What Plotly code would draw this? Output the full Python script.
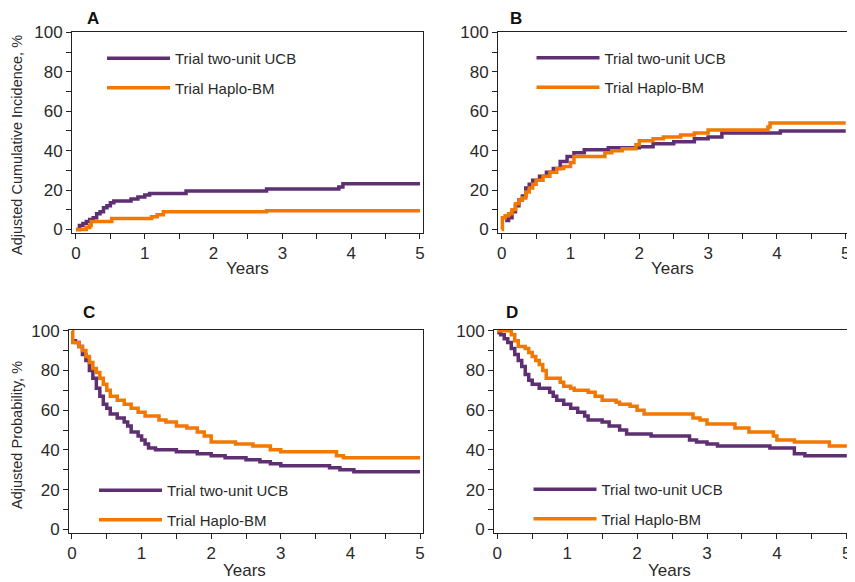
import plotly.graph_objects as go

# The page body has an 8px margin, so the figure is drawn 8px smaller and all
# reference pixel positions are shifted by that offset.
REF_W, REF_H = 855, 582
OFF = 8
W, H = REF_W - OFF, REF_H - OFF
PURPLE = "#5E2F72"
ORANGE = "#F27800"

# ---- Data ----
# Panel A: cumulative incidence
a_ucb_t = [0, 0.05, 0.1, 0.15, 0.2, 0.25, 0.3, 0.35, 0.4, 0.45, 0.5, 0.55, 0.8, 0.9, 1.0, 1.07, 1.6, 2.77, 3.82, 3.88, 5.0]
a_ucb_v = [0, 2, 3, 4, 5, 6, 8, 9, 11, 12, 13.5, 14.5, 15.5, 16.5, 17.5, 18.3, 19.5, 20.5, 21.5, 23.2, 23.2]
a_hap_t = [0, 0.15, 0.2, 0.22, 0.52, 1.1, 1.18, 1.27, 2.77, 5.0]
a_hap_v = [0, 1, 2, 4, 5.5, 6.5, 7.5, 9, 9.5, 9.5]

# Panel B
b_ucb_t = [0.05, 0.1, 0.15, 0.2, 0.25, 0.3, 0.35, 0.4, 0.45, 0.55, 0.65, 0.75, 0.85, 0.95, 1.05, 1.2, 1.55, 2.0, 2.2, 2.5, 2.8, 3.0, 3.2, 4.05, 5.0]
b_ucb_v = [4.5, 6, 9, 12, 15, 17, 21, 23, 25, 27, 29, 31, 34.5, 37, 39, 40.5, 41.5, 42, 43.5, 44.5, 46, 47, 49, 50, 50]
b_hap_t = [0, 0.01, 0.05, 0.1, 0.15, 0.2, 0.25, 0.3, 0.35, 0.4, 0.45, 0.5, 0.6, 0.7, 0.8, 0.9, 1.0, 1.05, 1.5, 1.6, 1.75, 1.95, 2.0, 2.2, 2.35, 2.6, 2.8, 3.0, 3.87, 3.9, 5.0]
b_hap_v = [0, 6, 7, 8, 10, 13, 15, 16, 19, 21, 23, 25, 27, 29, 31, 32, 34, 37, 39, 40, 41, 43, 45, 46, 47, 48, 49, 50.5, 52, 54, 54]

# Panel C: adjusted probability
c_ucb_t = [0, 0.05, 0.1, 0.15, 0.2, 0.25, 0.3, 0.35, 0.4, 0.45, 0.5, 0.55, 0.65, 0.75, 0.8, 0.85, 0.95, 1.0, 1.05, 1.1, 1.2, 1.5, 1.8, 2.0, 2.2, 2.5, 2.7, 2.85, 3.0, 3.7, 3.85, 4.05, 5.0]
c_ucb_v = [95, 94, 92, 88, 85, 80, 76, 71, 67, 63, 61, 58, 56, 54, 52, 49, 47, 45, 43, 41, 40, 39, 38, 37, 36, 35, 34, 33, 32, 31, 30, 29, 29]
c_hap_t = [0, 0.01, 0.1, 0.15, 0.2, 0.25, 0.3, 0.35, 0.4, 0.45, 0.5, 0.55, 0.65, 0.75, 0.85, 0.95, 1.05, 1.25, 1.35, 1.5, 1.65, 1.8, 1.9, 2.0, 2.35, 2.6, 2.85, 3.0, 3.8, 3.9, 5.0]
c_hap_v = [100, 94, 92, 90, 87, 84, 81, 79, 76, 73, 70, 67, 65, 63, 61, 59, 57, 55, 54, 52, 51, 49, 47, 44, 43, 42, 40, 39, 37, 36, 36]

# Panel D
d_ucb_t = [0, 0.05, 0.1, 0.15, 0.2, 0.25, 0.3, 0.35, 0.4, 0.45, 0.5, 0.6, 0.75, 0.8, 0.85, 0.95, 1.05, 1.15, 1.25, 1.3, 1.5, 1.6, 1.75, 1.85, 2.2, 2.75, 2.85, 3.0, 3.15, 3.9, 4.25, 4.4, 5.0]
d_ucb_v = [99, 98, 96, 94, 91, 88, 85, 82, 78, 75, 73, 71, 69, 67, 65, 63, 61, 59, 57, 55, 54, 52, 50, 48, 47, 45, 44, 43, 42, 41, 38, 37, 37]
d_hap_t = [0, 0.2, 0.25, 0.3, 0.4, 0.45, 0.5, 0.55, 0.6, 0.65, 0.7, 0.9, 0.95, 1.05, 1.1, 1.3, 1.4, 1.5, 1.7, 1.75, 1.9, 2.0, 2.1, 2.8, 2.9, 3.0, 3.4, 3.6, 3.95, 4.0, 4.25, 4.75, 5.0]
d_hap_v = [100, 98, 95, 92, 91, 89, 87, 85, 83, 80, 76, 74, 72, 71, 70, 69, 67, 65, 64, 63, 62, 60, 58, 56, 55, 53, 51, 49, 47, 45, 44, 42, 42]

series_names = ["Trial two-unit UCB", "Trial Haplo-BM"]
panel_letters = ["A", "B", "C", "D"]
y_tick_vals = list(range(0, 101, 10))
y_tick_text = [str(v) if v % 20 == 0 else "" for v in y_tick_vals]
x_tick_vals = [i * 0.5 for i in range(11)]
x_tick_text = [str(int(v)) if v == int(v) else "" for v in x_tick_vals]

panels = [
    (a_ucb_t, a_ucb_v, a_hap_t, a_hap_v),
    (b_ucb_t, b_ucb_v, b_hap_t, b_hap_v),
    (c_ucb_t, c_ucb_v, c_hap_t, c_hap_v),
    (d_ucb_t, d_ucb_v, d_hap_t, d_hap_v),
]


def fx(px):
    return (px - OFF) / W


def fy(py):
    return 1 - (py - OFF) / H


# layout geometry in reference pixels: (left, right, top, bottom), x-range, y-range
geom = [
    ((72, 423, 32, 233), [-0.058, 5.044], [-1.8, 100.25]),
    ((498, 848, 32, 233), [-0.054, 5.033], [-1.8, 100.25]),
    ((69, 423, 330, 533), [-0.043, 5.043], [-1.86, 100.35]),
    ((494, 848, 330, 533), [-0.047, 5.017], [-1.86, 100.35]),
]
legend_pos = [(102, 42), (531.5, 41.5), (94, 474), (528.5, 473)]

fig = go.Figure()
font_fam = "Liberation Sans, Arial, sans-serif"
layout = dict(
    template="none",
    width=W, height=H, margin=dict(l=0, r=0, t=0, b=0, autoexpand=False),
    paper_bgcolor="white", plot_bgcolor="white",
    font=dict(family=font_fam, color="#2a2a2a"),
    showlegend=True,
)
annotations = []
for i, (ut, uv, ht, hv) in enumerate(panels):
    n = i + 1
    xa = "x" if n == 1 else f"x{n}"
    ya = "y" if n == 1 else f"y{n}"
    lg = "legend" if n == 1 else f"legend{n}"
    for t, v, name, col in [(ut, uv, series_names[0], PURPLE), (ht, hv, series_names[1], ORANGE)]:
        fig.add_trace(go.Scatter(
            x=t, y=v, mode="lines", name=name, line=dict(color=col, width=3.5, shape="hv"),
            xaxis=xa, yaxis=ya, legend=lg, legendgroup=f"{lg}-{name}", hoverinfo="skip",
        ))
    (l, r, t_, b), xr, yr = geom[i]
    axkey_x = "xaxis" if n == 1 else f"xaxis{n}"
    axkey_y = "yaxis" if n == 1 else f"yaxis{n}"
    common = dict(
        ticks="outside", ticklen=5, tickcolor="#222", showline=True, linecolor="#222",
        linewidth=1, mirror=True, showgrid=False, zeroline=False,
        tickfont=dict(size=17, color="#2a2a2a"), fixedrange=True, automargin=False,
    )
    layout[axkey_x] = dict(domain=[fx(l), fx(r)], range=xr, anchor=ya,
                           tickvals=x_tick_vals, ticktext=x_tick_text, **common)
    layout[axkey_y] = dict(domain=[fy(b), fy(t_)], range=yr, anchor=xa,
                           tickvals=y_tick_vals, ticktext=y_tick_text, **common)
    lx, ly = legend_pos[i]
    layout[lg] = dict(
        x=fx(lx), y=fy(ly), xanchor="left", yanchor="top",
        bgcolor="rgba(0,0,0,0)", borderwidth=0, font=dict(size=15, color="#2a2a2a"),
        itemwidth=63, traceorder="grouped", tracegroupgap=7,
    )

# panel letters (top row pinned to the figure's top edge so nothing is clipped)
letter_pos = [(93, None), (516, None), (89, 312), (512, 312)]
for letter, (px, py) in zip(panel_letters, letter_pos):
    if py is None:
        annotations.append(dict(text=f"<b>{letter}</b>", x=fx(px), y=1, xref="paper", yref="paper",
                                showarrow=False, font=dict(size=17, color="#111"), borderpad=0,
                                xanchor="center", yanchor="top"))
    else:
        annotations.append(dict(text=f"<b>{letter}</b>", x=fx(px), y=fy(py), xref="paper", yref="paper",
                                showarrow=False, font=dict(size=17, color="#111"),
                                xanchor="center", yanchor="middle"))
# Years labels
for px, py in [(247, 268), (672, 268), (244, 570), (669, 570)]:
    annotations.append(dict(text="Years", x=fx(px), y=fy(py), xref="paper", yref="paper",
                            showarrow=False, font=dict(size=17, color="#2a2a2a"), xanchor="center", yanchor="middle"))
# y titles (pinned to the figure's left edge)
annotations.append(dict(text="Adjusted Cumulative Incidence, %", x=0, y=fy(145), xref="paper", yref="paper",
                        showarrow=False, textangle=-90, font=dict(size=14.5, color="#2a2a2a"), borderpad=0,
                        xanchor="left", yanchor="middle"))
annotations.append(dict(text="Adjusted Probability, %", x=0, y=fy(435), xref="paper", yref="paper",
                        showarrow=False, textangle=-90, font=dict(size=14.5, color="#2a2a2a"), borderpad=0,
                        xanchor="left", yanchor="middle"))
layout["annotations"] = annotations
fig.update_layout(**layout)
fig.write_html("out.html")
